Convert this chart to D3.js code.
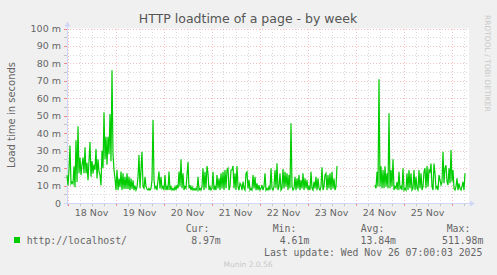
<!DOCTYPE html>
<html>
<head>
<meta charset="utf-8">
<script src="https://cdn.jsdelivr.net/npm/d3@7"></script>
<style>
  html, body { margin: 0; padding: 0; background: #F0F0F0; }
  svg { display: block; font-family: "DejaVu Sans", sans-serif; }
</style>
</head>
<body>
<svg id="chart" width="497" height="275"></svg>
<script>
// ---------------- DATA ----------------
const title = "HTTP loadtime of a page - by week";
const yAxisTitle = "Load time in seconds";
const dayLabels = ["18 Nov", "19 Nov", "20 Nov", "21 Nov", "22 Nov", "23 Nov", "24 Nov", "25 Nov"];
const yTickValues = [0, 10, 20, 30, 40, 50, 60, 70, 80, 90, 100];
const yTickLabels = ["0", "10 m", "20 m", "30 m", "40 m", "50 m", "60 m", "70 m", "80 m", "90 m", "100 m"];
const seriesName = "http://localhost/";
const statLabels = ["Cur:", "Min:", "Avg:", "Max:"];
const statValues = ["8.97m", "4.61m", "13.84m", "511.98m"];
const lastUpdate = "Last update: Wed Nov 26 07:00:03 2025";
const seriesStart = new Date(2025, 10, 17, 23, 45);  // first 30-minute sample
const stepMinutes = 30;
// load time (milliseconds), one value per 30 minutes; null = no data
const day18 = [16,10,19,33,11,12,11,21,9,36,12,44,17,26,16,22,26,17,32,17,23,13,24,35,15,24,17,22,19,31,14,25,18,16,10,30,20,52,25,38,22,38,28,51,24,76,28,19];
const day19 = [14,7.4,19,7.4,14,9,18,7.4,17,8,15,8,17,8,15,7.4,14,8,13,7.4,10,7.4,9,15,27.5,8.4,19,29.4,9.4,8.4,15,9.4,8,7.4,8.4,7.4,8.4,13.2,47.6,13.2,8.4,9.4,7.4,13.2,18,8.4,15,8.4];
const day20 = [9.4,7.4,16,7.4,9.4,7.4,18,7.4,9.4,7.4,8.4,7.4,9.4,7.4,10.3,8.4,18,9.4,25,8.4,17,7.4,9.4,8.4,16,23.5,8.4,10.3,7.4,9.4,7.4,8.4,7.4,8.4,7.4,15,7.4,8.4,7.4,9.4,19.9,7.4,17.9,8.4,21.2,17,7.4,9.4];
const day21 = [7.4,8.4,17.9,7.4,9.4,7.4,16,8.4,14.1,7.4,17,8.4,17.9,7.4,18.9,8.4,18.9,19.9,7.4,9.4,18.9,18.9,21.2,8.4,17,7.4,21.2,9.4,7.4,11.3,10.3,7.4,12.2,8.4,7.4,17,17.9,8.4,13.2,7.4,8.4,7.4,16,8.4,15,7.4,11.3,7.4];
const day22 = [10.3,7.4,8.4,10.3,7.4,9.4,17,7.4,8.4,7.4,9.4,7.4,19.9,8.4,7.4,9.4,18.9,8.4,22.7,7.4,9.4,17,7.4,8.4,19.5,8.4,17.9,9.4,17,7.4,16,8.4,45.7,9.4,7.4,8.4,15,7.4,14.1,8.4,16,7.4,13.2,8.4,17,7.4,14.1,8.4];
const day23 = [13.2,7.4,9.4,7.4,17.9,8.4,7.4,12.2,8.4,15,7.4,14.1,8.4,7.4,9.4,20.5,7.4,9.4,16,17,7.4,16,8.4,17,7.4,17.9,8.4,14,7.4,9.4,21.2,
  null,null,null,null,null,null,null,null,null,null,null,null,null,null,null,null,null];
const day24 = [null,null,null,null,null,null,null,null,null,null,null,null,null,null,null,null,null,null,null,null,
  10.3,8.4,17.9,9.4,70.9,9.4,21,8.4,18.9,8.4,21,9.4,17,8.4,51.4,8.4,18.9,9.4,25,7.4,9.4,8.4,12,7.4,17.9,8.4,9.4,7.4];
const day25 = [19.9,7.4,8.4,7.4,17,7.4,18.9,8.4,17,7.4,8.4,18.9,7.4,15,8.4,7.4,18.9,8.4,17,7.4,9.4,17.9,19.9,8.4,21.2,9.4,18.9,17.9,22.6,9.4,7.4,22.6,17,8.4,9.4,7.4,16,13.2,10.3,12,29.4,11.3,19.9,21.6,12.2,10.3,19.9,11.3];
const day26 = [30.4,12.2,18.9,8.4,7.4,9.4,14.1,7.4,11.3,8.4,7.4,9.4,12.2,7.4,17];
const loadtimeMs = [].concat(day18, day19, day20, day21, day22, day23, day24, day25, day26);

// ---------------- LAYOUT ----------------
const svg = d3.select("#chart");
const W = 497, H = 275;
const plot = { left: 67, right: 469, top: 28.5, bottom: 203 };
const fontColor = "#666666";
const axisColor = "#CFD6F8";
const sans = "'DejaVu Sans', sans-serif";
const mono = "'DejaVu Sans Mono', monospace";

const x = d3.scaleTime()
  .domain([new Date(2025, 10, 17, 23, 45), new Date(2025, 10, 26, 8, 45)])
  .range([plot.left, plot.right]);
const y = d3.scaleLinear().domain([0, 100]).range([plot.bottom, plot.top]);

const points = loadtimeMs.map((v, i) => ({
  t: new Date(seriesStart.getTime() + i * stepMinutes * 60000), v
}));

svg.append("rect").attr("width", W).attr("height", H).attr("fill", "#F0F0F0");
svg.append("rect")
  .attr("x", plot.left).attr("y", plot.top)
  .attr("width", plot.right - plot.left).attr("height", plot.bottom - plot.top)
  .attr("fill", "#FFFFFF");

// grid
const days = d3.timeDay.range(new Date(2025, 10, 18), new Date(2025, 10, 26, 12));
const sixHours = d3.timeHour.every(6).range(x.domain()[0], x.domain()[1]).filter(d => d.getHours() !== 0);
const minorY = d3.range(5, 100, 10);
const majorY = yTickValues.filter(v => v > 0);
const grid = svg.append("g").attr("shape-rendering", "crispEdges");
const minorColor = "rgba(150,150,150,0.35)";
const majorColor = "rgba(230,110,110,0.45)";

sixHours.forEach(d => {
  const xx = Math.round(x(d)) + 0.5;
  grid.append("line").attr("x1", xx).attr("x2", xx).attr("y1", plot.top).attr("y2", plot.bottom)
    .attr("stroke", minorColor).attr("stroke-dasharray", "1,2");
  grid.append("line").attr("x1", xx).attr("x2", xx).attr("y1", plot.bottom).attr("y2", plot.bottom + 3)
    .attr("stroke", "#C4C4C4");
});
minorY.forEach(v => {
  const yy = Math.round(y(v)) + 0.5;
  grid.append("line").attr("x1", plot.left).attr("x2", plot.right).attr("y1", yy).attr("y2", yy)
    .attr("stroke", minorColor).attr("stroke-dasharray", "1,2");
  grid.append("line").attr("x1", plot.left - 3).attr("x2", plot.left).attr("y1", yy).attr("y2", yy)
    .attr("stroke", "#C4C4C4");
});
days.forEach(d => {
  const xx = Math.round(x(d)) + 0.5;
  grid.append("line").attr("x1", xx).attr("x2", xx).attr("y1", plot.top).attr("y2", plot.bottom)
    .attr("stroke", majorColor).attr("stroke-dasharray", "1,2");
  grid.append("line").attr("x1", xx).attr("x2", xx).attr("y1", plot.bottom).attr("y2", plot.bottom + 3)
    .attr("stroke", "#EC8A8A");
});
majorY.forEach(v => {
  const yy = Math.round(y(v)) + 0.5;
  grid.append("line").attr("x1", plot.left).attr("x2", plot.right).attr("y1", yy).attr("y2", yy)
    .attr("stroke", majorColor).attr("stroke-dasharray", "1,2");
  grid.append("line").attr("x1", plot.left - 3).attr("x2", plot.left).attr("y1", yy).attr("y2", yy)
    .attr("stroke", "#EC8A8A");
});

// axes lines + arrows
const ax = svg.append("g");
ax.append("line").attr("x1", plot.left - 3).attr("x2", plot.right + 2)
  .attr("y1", plot.bottom + 0.5).attr("y2", plot.bottom + 0.5)
  .attr("stroke", axisColor).attr("shape-rendering", "crispEdges");
ax.append("path").attr("d", `M${plot.right + 1},${plot.bottom - 2.5} L${plot.right + 6},${plot.bottom + 0.5} L${plot.right + 1},${plot.bottom + 3.5} Z`)
  .attr("fill", axisColor);
ax.append("line").attr("x1", plot.left + 0.5).attr("x2", plot.left + 0.5)
  .attr("y1", plot.bottom + 3).attr("y2", plot.top - 3)
  .attr("stroke", axisColor).attr("shape-rendering", "crispEdges");
ax.append("path").attr("d", `M${plot.left - 2.5},${plot.top - 2} L${plot.left + 0.5},${plot.top - 7} L${plot.left + 3.5},${plot.top - 2} Z`)
  .attr("fill", axisColor);

// data line
const line = d3.line()
  .defined(d => d.v !== null)
  .x(d => x(d.t))
  .y(d => y(d.v));
svg.append("path").datum(points)
  .attr("d", line)
  .attr("fill", "none")
  .attr("stroke", "#00CC00")
  .attr("stroke-width", 1.2)
  .attr("stroke-linejoin", "miter");

// y tick labels
svg.append("g").selectAll("text").data(yTickValues).join("text")
  .attr("x", 61).attr("y", d => y(d) + 3.5)
  .attr("text-anchor", "end")
  .style("font-family", sans).style("font-size", "9.5px").attr("fill", fontColor)
  .text((d, i) => yTickLabels[i]);

// x day labels (centered at noon)
svg.append("g").selectAll("text").data(dayLabels).join("text")
  .attr("x", (d, i) => x(d3.timeHour.offset(days[i], 12)))
  .attr("y", 216)
  .attr("text-anchor", "middle")
  .style("font-family", sans).style("font-size", "9.5px").attr("fill", fontColor)
  .text(d => d);

// titles
svg.append("text").attr("x", 248).attr("y", 22.5).attr("text-anchor", "middle")
  .style("font-family", sans).style("font-size", "12.5px").attr("fill", "#555555").text(title);
svg.append("text").attr("transform", `translate(14.5,115) rotate(-90)`)
  .attr("text-anchor", "middle").style("font-family", sans).style("font-size", "10px")
  .attr("fill", fontColor).text(yAxisTitle);
svg.append("text").attr("transform", `translate(485,15) rotate(90)`)
  .attr("text-anchor", "start").style("font-family", sans).style("font-size", "7.5px")
  .attr("fill", "#C8C8C8").text("RRDTOOL / TOBI OETIKER");

// legend
const statX = [185.7, 272.7, 360.7, 446.7];
const valRight = [220.7, 309.3, 396, 483.3];
svg.append("g").selectAll("text").data(statLabels).join("text")
  .attr("x", (d, i) => statX[i]).attr("y", 231.5)
  .style("font-family", mono).style("font-size", "9.8px").attr("fill", fontColor).text(d => d);
svg.append("g").selectAll("text").data(statValues).join("text")
  .attr("x", (d, i) => valRight[i]).attr("y", 243.5).attr("text-anchor", "end")
  .style("font-family", mono).style("font-size", "9.8px").attr("fill", fontColor).text(d => d);
svg.append("rect").attr("x", 14).attr("y", 237).attr("width", 6).attr("height", 6).attr("fill", "#00CC00");
svg.append("text").attr("x", 26.7).attr("y", 243.5)
  .style("font-family", mono).style("font-size", "9.8px").attr("fill", fontColor).text(seriesName);
svg.append("text").attr("x", 482.3).attr("y", 255.5).attr("text-anchor", "end")
  .style("font-family", mono).style("font-size", "9.8px").attr("fill", fontColor).text(lastUpdate);
svg.append("text").attr("x", 248).attr("y", 267).attr("text-anchor", "middle")
  .style("font-family", sans).style("font-size", "7.5px").attr("fill", "#C8C8C8").text("Munin 2.0.56");
</script>
</body>
</html>
